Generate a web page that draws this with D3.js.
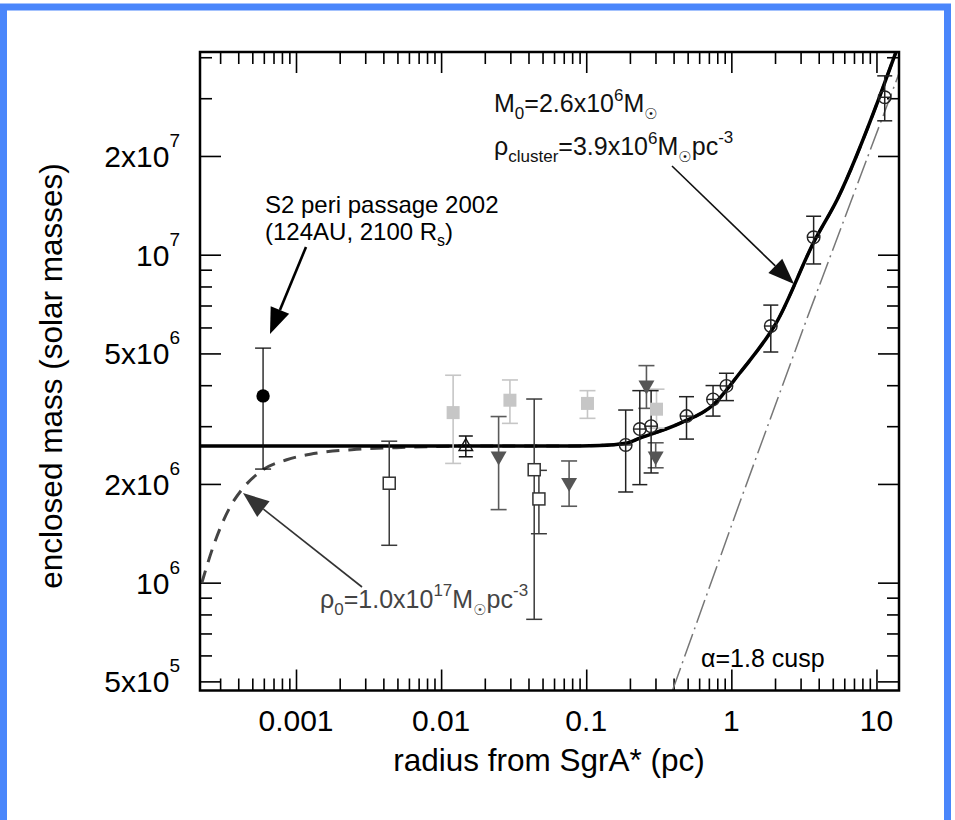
<!DOCTYPE html>
<html>
<head>
<meta charset="utf-8">
<script src="https://cdn.jsdelivr.net/npm/d3@7"></script>
<style>
  body { margin: 0; background: #fff; }
  svg { display: block; font-family: "Liberation Sans", Arial, Helvetica, sans-serif; }
</style>
</head>
<body>
<div id="chart"></div>
<script>
/* Data (radius in pc, enclosed mass in solar masses) */
const s2Points = [
  { r: 5.93e-4, m: 3.71e6, lo: 2.22e6, hi: 5.19e6 }
];
const lightSquares = [
  { r: 0.0121, m: 3.30e6, lo: 2.31e6, hi: 4.29e6 },
  { r: 0.0298, m: 3.60e6, lo: 3.06e6, hi: 4.15e6 },
  { r: 0.102, m: 3.52e6, lo: 3.17e6, hi: 3.85e6 },
  { r: 0.305, m: 3.38e6, lo: 2.96e6, hi: 3.89e6 }
];
const openTriangles = [
  { r: 0.0148, m: 2.60e6, lo: 2.42e6, hi: 2.80e6 }
];
const openSquares = [
  { r: 0.00439, m: 2.01e6, lo: 1.30e6, hi: 2.70e6 },
  { r: 0.0438, m: 2.21e6, lo: 7.73e5, hi: 3.63e6 },
  { r: 0.0472, m: 1.80e6, lo: 1.41e6, hi: 2.20e6 }
];
const downTriangles = [
  { r: 0.0249, m: 2.43e6, lo: 1.67e6, hi: 3.21e6 },
  { r: 0.0762, m: 2.02e6, lo: 1.71e6, hi: 2.35e6 },
  { r: 0.26, m: 4.00e6, lo: 3.40e6, hi: 4.59e6 },
  { r: 0.301, m: 2.43e6, lo: 2.24e6, hi: 2.67e6 }
];
const circlePlus = [
  { r: 0.187, m: 2.63e6, lo: 1.89e6, hi: 3.36e6 },
  { r: 0.234, m: 2.94e6, lo: 1.99e6, hi: 3.85e6 },
  { r: 0.28, m: 3.00e6, lo: 2.16e6, hi: 3.85e6 },
  { r: 0.491, m: 3.22e6, lo: 2.74e6, hi: 3.69e6 },
  { r: 0.748, m: 3.62e6, lo: 3.22e6, hi: 3.99e6 },
  { r: 0.925, m: 3.98e6, lo: 3.59e6, hi: 4.35e6 },
  { r: 1.87, m: 6.06e6, lo: 5.05e6, hi: 7.02e6 },
  { r: 3.69, m: 1.13e7, lo: 9.37e6, hi: 1.31e7 },
  { r: 11.4, m: 3.02e7, lo: 2.56e7, hi: 3.51e7 }
];

/* Model curves */
const fitR = [2.18e-4, 0.0658, 0.124, 0.187, 0.234, 0.441, 0.748, 1.14, 2.09, 3.69, 5.43, 10.5, 13.0, 13.8];
const fitM = [2.61e6, 2.61e6, 2.62e6, 2.66e6, 2.76e6, 3.06e6, 3.48e6, 4.35e6, 6.32e6, 1.09e7, 1.49e7, 3.03e7, 3.92e7, 4.21e7];
const darkR = [2.24e-4, 2.69e-4, 3.51e-4, 4.23e-4, 5.93e-4, 8.63e-4, 1.46e-3, 2.62e-3, 4.94e-3, 0.0157, 0.0658, 0.124, 0.187, 0.234, 0.441, 0.748, 1.14, 2.09, 3.69, 5.43, 10.5, 13.0, 13.8];
const darkM = [9.96e5, 1.29e6, 1.70e6, 1.92e6, 2.21e6, 2.37e6, 2.49e6, 2.55e6, 2.58e6, 2.61e6, 2.61e6, 2.62e6, 2.66e6, 2.76e6, 3.06e6, 3.48e6, 4.35e6, 6.32e6, 1.09e7, 1.49e7, 3.03e7, 3.92e7, 4.21e7];
const cuspR = [0.393, 1.14, 3.29, 14.0, 15.0];
const cuspM = [4.69e5, 1.75e6, 6.32e6, 3.48e7, 3.8e7];

/* Ticks */
const xMajor = [1e-3, 1e-2, 0.1, 1, 10];
const xLabels = ["0.001", "0.01", "0.1", "1", "10"];
const yMajor = [5e5, 1e6, 2e6, 5e6, 1e7, 2e7];
const yLabelBase = ["5x10", "10", "2x10", "5x10", "10", "2x10"];
const yLabelExp = ["5", "6", "6", "6", "7", "7"];

const width = 955, height = 820;
const mLeft = 200, mRight = 899, mTop = 52, mBottom = 690.5;

const svg = d3.select("#chart").append("svg")
  .attr("width", width)
  .attr("height", height);

/* Blue frame */
svg.append("rect")
  .attr("x", 3.5).attr("y", 7)
  .attr("width", 944).attr("height", 840)
  .attr("fill", "none")
  .attr("stroke", "#4a86fb")
  .attr("stroke-width", 7);

const x = d3.scaleLog().domain([2.18e-4, 14.3]).range([mLeft, mRight]);
const y = d3.scaleLog().domain([4.69e5, 4.15e7]).range([mBottom, mTop]);

// minor ticks: 2..9 in each decade inside the domain
function minorTicks(scale) {
  const [a, b] = scale.domain();
  const out = [];
  for (let e = Math.floor(Math.log10(a)); e <= Math.ceil(Math.log10(b)); e++) {
    for (let k = 2; k <= 9; k++) {
      const v = k * Math.pow(10, e);
      if (v > a && v < b) out.push(v);
    }
  }
  return out;
}
const isMajor = (list, v) => list.some(m => Math.abs(m - v) / v < 1e-9);
const xMinor = minorTicks(x).filter(v => !isMajor(xMajor, v));
const yMinor = minorTicks(y).filter(v => !isMajor(yMajor, v));

const majorLen = 21, minorLen = 12;

function tickAxis(axisFn, scale, values, len, transform) {
  const g = svg.append("g")
    .attr("transform", transform)
    .call(axisFn(scale).tickValues(values).tickSize(-len).tickFormat(""));
  g.select(".domain").remove();
  g.selectAll("line").attr("stroke", "#000").attr("stroke-width", 1.6);
  return g;
}
tickAxis(d3.axisBottom, x, xMajor, majorLen, `translate(0,${mBottom})`);
tickAxis(d3.axisBottom, x, xMinor, minorLen, `translate(0,${mBottom})`);
tickAxis(d3.axisTop, x, xMajor, majorLen, `translate(0,${mTop})`);
tickAxis(d3.axisTop, x, xMinor, minorLen, `translate(0,${mTop})`);
tickAxis(d3.axisLeft, y, yMajor, majorLen, `translate(${mLeft},0)`);
tickAxis(d3.axisLeft, y, yMinor, minorLen, `translate(${mLeft},0)`);
tickAxis(d3.axisRight, y, yMajor, majorLen, `translate(${mRight},0)`);
tickAxis(d3.axisRight, y, yMinor, minorLen, `translate(${mRight},0)`);

/* Tick labels */
svg.append("g").selectAll("text")
  .data(xMajor)
  .enter().append("text")
  .attr("x", d => x(d))
  .attr("y", 731)
  .attr("text-anchor", "middle")
  .attr("font-size", 30)
  .text((d, i) => xLabels[i]);

const yl = svg.append("g").selectAll("text")
  .data(yMajor)
  .enter().append("text")
  .attr("x", 180)
  .attr("y", d => y(d) + 11)
  .attr("text-anchor", "end")
  .attr("font-size", 30);
yl.append("tspan").text((d, i) => yLabelBase[i]);
yl.append("tspan").attr("font-size", 19).attr("dy", -20).text((d, i) => yLabelExp[i]);

/* Axis titles */
svg.append("text")
  .attr("x", 549).attr("y", 771)
  .attr("text-anchor", "middle")
  .attr("font-size", 31.5)
  .text("radius from SgrA* (pc)");

svg.append("text")
  .attr("transform", "translate(62,376) rotate(-90)")
  .attr("text-anchor", "middle")
  .attr("font-size", 31.5)
  .text("enclosed mass (solar masses)");

/* Clip to the plot area */
svg.append("clipPath").attr("id", "plot-clip")
  .append("rect")
  .attr("x", mLeft).attr("y", mTop)
  .attr("width", mRight - mLeft).attr("height", mBottom - mTop);
const plot = svg.append("g").attr("clip-path", "url(#plot-clip)");

const line = d3.line()
  .x(d => x(d[0]))
  .y(d => y(d[1]))
  .curve(d3.curveMonotoneX);

plot.append("path")
  .datum(cuspR.map((r, i) => [r, cuspM[i]]))
  .attr("d", d3.line().x(d => x(d[0])).y(d => y(d[1])))
  .attr("fill", "none")
  .attr("stroke", "#777")
  .attr("stroke-width", 1.5)
  .attr("stroke-dasharray", "24,5,2,5");

plot.append("path")
  .datum(darkR.map((r, i) => [r, darkM[i]]))
  .attr("d", line)
  .attr("fill", "none")
  .attr("stroke", "#444")
  .attr("stroke-width", 3)
  .attr("stroke-dasharray", "13,9");

plot.append("path")
  .datum(fitR.map((r, i) => [r, fitM[i]]))
  .attr("d", line)
  .attr("fill", "none")
  .attr("stroke", "#000")
  .attr("stroke-width", 3.5);

/* Error bars */
function errorBars(data, color, cap, sw) {
  const g = svg.append("g").attr("stroke", color).attr("stroke-width", sw).attr("fill", "none");
  data.forEach(d => {
    const cx = x(d.r);
    g.append("line").attr("x1", cx).attr("x2", cx).attr("y1", y(d.lo)).attr("y2", y(d.hi));
    g.append("line").attr("x1", cx - cap / 2).attr("x2", cx + cap / 2).attr("y1", y(d.lo)).attr("y2", y(d.lo));
    g.append("line").attr("x1", cx - cap / 2).attr("x2", cx + cap / 2).attr("y1", y(d.hi)).attr("y2", y(d.hi));
  });
}

errorBars(lightSquares, "#c6c6c6", 16, 1.6);
errorBars(openSquares, "#3a3a3a", 16, 1.5);
errorBars(downTriangles, "#5a5a5a", 16, 1.6);
errorBars(openTriangles, "#111", 14, 1.5);
errorBars(circlePlus, "#222", 15, 1.5);
errorBars(s2Points, "#111", 16, 1.3);

svg.append("g").selectAll("rect")
  .data(lightSquares).enter().append("rect")
  .attr("x", d => x(d.r) - 6.5).attr("y", d => y(d.m) - 6.5)
  .attr("width", 13).attr("height", 13)
  .attr("fill", "#c6c6c6");

svg.append("g").selectAll("rect")
  .data(openSquares).enter().append("rect")
  .attr("x", d => x(d.r) - 6).attr("y", d => y(d.m) - 6)
  .attr("width", 12).attr("height", 12)
  .attr("fill", "#fff")
  .attr("stroke", "#333")
  .attr("stroke-width", 1.5);

svg.append("g").selectAll("path")
  .data(downTriangles).enter().append("path")
  .attr("transform", d => `translate(${x(d.r)},${y(d.m)}) rotate(180)`)
  .attr("d", d3.symbol().type(d3.symbolTriangle).size(110))
  .attr("fill", "#555");

svg.append("g").selectAll("path")
  .data(openTriangles).enter().append("path")
  .attr("transform", d => `translate(${x(d.r)},${y(d.m)})`)
  .attr("d", d3.symbol().type(d3.symbolTriangle).size(80))
  .attr("fill", "none")
  .attr("stroke", "#111")
  .attr("stroke-width", 1.4);

const cp = svg.append("g").selectAll("g")
  .data(circlePlus).enter().append("g")
  .attr("transform", d => `translate(${x(d.r)},${y(d.m)})`)
  .attr("stroke", "#222")
  .attr("stroke-width", 1.4)
  .attr("fill", "none");
cp.append("circle").attr("r", 6.3);
cp.append("line").attr("x1", -6.3).attr("x2", 6.3);

svg.append("g").selectAll("circle")
  .data(s2Points).enter().append("circle")
  .attr("cx", d => x(d.r)).attr("cy", d => y(d.m))
  .attr("r", 6.7)
  .attr("fill", "#000");

/* Annotations */
function arrow(x1, y1, x2, y2, color, headLen, headW, sw) {
  const a = Math.atan2(y2 - y1, x2 - x1);
  const bx = x2 - headLen * Math.cos(a), by = y2 - headLen * Math.sin(a);
  const px = -Math.sin(a) * headW / 2, py = Math.cos(a) * headW / 2;
  svg.append("line")
    .attr("x1", x1).attr("y1", y1).attr("x2", bx).attr("y2", by)
    .attr("stroke", color).attr("stroke-width", sw);
  svg.append("path")
    .attr("d", `M${x2},${y2}L${bx + px},${by + py}L${bx - px},${by - py}Z`)
    .attr("fill", color);
}
arrow(306, 247, 270, 334, "#000", 26, 20, 2.6);
arrow(672, 166, 794, 284, "#111", 26, 20, 1.6);
arrow(362, 587, 243, 493, "#333", 26, 20, 1.6);

const sun = "\u2609";
function addSun(t, dy) {
  t.append("tspan").attr("font-family", "DejaVu Sans").attr("font-size", 15).attr("dy", dy).text(sun);
}

const t1 = svg.append("text").attr("x", 494).attr("y", 112).attr("font-size", 25).attr("fill", "#111");
t1.append("tspan").text("M");
t1.append("tspan").attr("font-size", 17).attr("dy", 7).text("0");
t1.append("tspan").attr("dy", -7).text("=2.6x10");
t1.append("tspan").attr("font-size", 17).attr("dy", -11).text("6");
t1.append("tspan").attr("dy", 11).text("M");
addSun(t1, 7);

const t2 = svg.append("text").attr("x", 494).attr("y", 155).attr("font-size", 25).attr("fill", "#111");
t2.append("tspan").text("\u03c1");
t2.append("tspan").attr("font-size", 17).attr("dy", 7).text("cluster");
t2.append("tspan").attr("dy", -7).text("=3.9x10");
t2.append("tspan").attr("font-size", 17).attr("dy", -11).text("6");
t2.append("tspan").attr("dy", 11).text("M");
addSun(t2, 7);
t2.append("tspan").attr("dy", -7).text("pc");
t2.append("tspan").attr("font-size", 17).attr("dy", -12).text("-3");

const t3 = svg.append("text").attr("x", 320).attr("y", 608).attr("font-size", 25).attr("fill", "#444");
t3.append("tspan").text("\u03c1");
t3.append("tspan").attr("font-size", 17).attr("dy", 7).text("0");
t3.append("tspan").attr("dy", -7).text("=1.0x10");
t3.append("tspan").attr("font-size", 17).attr("dy", -12).text("17");
t3.append("tspan").attr("dy", 12).text("M");
addSun(t3, 7);
t3.append("tspan").attr("dy", -7).text("pc");
t3.append("tspan").attr("font-size", 17).attr("dy", -12).text("-3");

svg.append("text").attr("x", 265).attr("y", 213).attr("font-size", 24)
  .text("S2 peri passage 2002");
const t4 = svg.append("text").attr("x", 265).attr("y", 240).attr("font-size", 24);
t4.append("tspan").text("(124AU, 2100 R");
t4.append("tspan").attr("font-size", 16).attr("dy", 6).text("s");
t4.append("tspan").attr("dy", -6).text(")");

svg.append("text").attr("x", 701).attr("y", 667).attr("font-size", 25)
  .text("\u03b1=1.8 cusp");

/* Plot frame */
svg.append("rect")
  .attr("x", mLeft).attr("y", mTop)
  .attr("width", mRight - mLeft).attr("height", mBottom - mTop)
  .attr("fill", "none")
  .attr("stroke", "#000")
  .attr("stroke-width", 2.5);
</script>
</body>
</html>
